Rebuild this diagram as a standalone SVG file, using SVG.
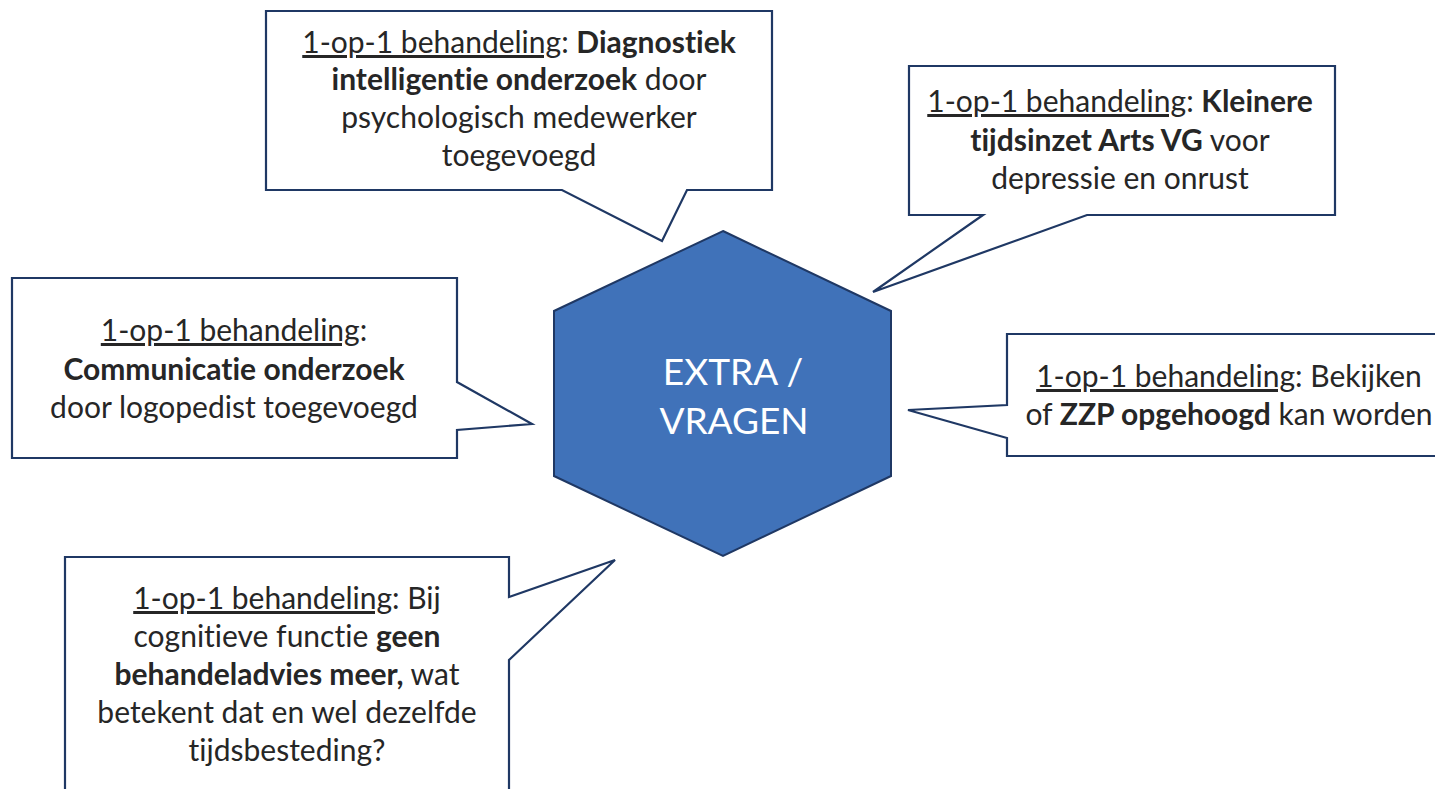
<svg xmlns="http://www.w3.org/2000/svg" width="1435" height="789" viewBox="0 0 1435 789">
<style>
.call{fill:#ffffff;stroke:#1f3864;stroke-width:2.2;stroke-linejoin:miter}
.t{font-family:Lato,"Noto Sans","Liberation Sans",sans-serif;font-size:30px;fill:#262626;text-anchor:middle;font-variant-ligatures:none}
.b{font-weight:bold}
.u{text-decoration:underline}
.hex{fill:#4072b9;stroke:#1f3864;stroke-width:2}
.ht{font-family:Lato,"Noto Sans","Liberation Sans",sans-serif;font-size:37px;fill:#ffffff;text-anchor:middle}
</style>
<rect width="1435" height="789" fill="#ffffff"/>
<g id="connectors"></g>
<g id="hexagon">
<polygon class="hex" points="723,231 891,311 891,476 723,556 554,476 554,311"/>
<text class="ht" x="733" y="385">EXTRA /</text>
<text class="ht" x="734" y="434">VRAGEN</text>
</g>
<g id="callout-top">
<path class="call" d="M266,11 H772 V190 H687 L662,241 L562,190 H266 Z"/>
<text class="t" x="519" y="53"><tspan class="u">1-op-1 behandeling</tspan>: <tspan class="b">Diagnostiek</tspan></text>
<text class="t" x="519" y="90"><tspan class="b">intelligentie onderzoek</tspan> door</text>
<text class="t" x="519" y="128">psychologisch medewerker</text>
<text class="t" x="519" y="166">toegevoegd</text>
</g>
<g id="callout-topright">
<path class="call" d="M909,66 H1335 V215 H1087 L873,292 L983,215 H909 Z"/>
<text class="t" x="1120" y="112"><tspan class="u">1-op-1 behandeling</tspan>: <tspan class="b">Kleinere</tspan></text>
<text class="t" x="1120" y="151"><tspan class="b">tijdsinzet Arts VG</tspan> voor</text>
<text class="t" x="1120" y="189">depressie en onrust</text>
</g>
<g id="callout-left">
<path class="call" d="M12,278 H457 V382 L532,424 L457,430 V458 H12 Z"/>
<text class="t" x="234" y="341"><tspan class="u">1-op-1 behandeling</tspan>:</text>
<text class="t" x="234" y="380"><tspan class="b">Communicatie onderzoek</tspan></text>
<text class="t" x="234" y="418">door logopedist toegevoegd</text>
</g>
<g id="callout-right">
<path class="call" d="M1007,334 H1460 V456 H1007 V438 L908,410 L1007,405 Z"/>
<text class="t" x="1229" y="387"><tspan class="u">1-op-1 behandeling</tspan>: Bekijken</text>
<text class="t" x="1229" y="425">of <tspan class="b">ZZP opgehoogd</tspan> kan worden</text>
</g>
<g id="callout-bottom">
<path class="call" d="M65,557 H509 V597 L615,560 L509,660 V800 H65 Z"/>
<text class="t" x="287" y="609"><tspan class="u">1-op-1 behandeling</tspan>: Bij</text>
<text class="t" x="287" y="647">cognitieve functie <tspan class="b">geen</tspan></text>
<text class="t" x="287" y="685"><tspan class="b">behandeladvies meer,</tspan> wat</text>
<text class="t" x="287" y="723">betekent dat en wel dezelfde</text>
<text class="t" x="287" y="761">tijdsbesteding?</text>
</g>
</svg>
